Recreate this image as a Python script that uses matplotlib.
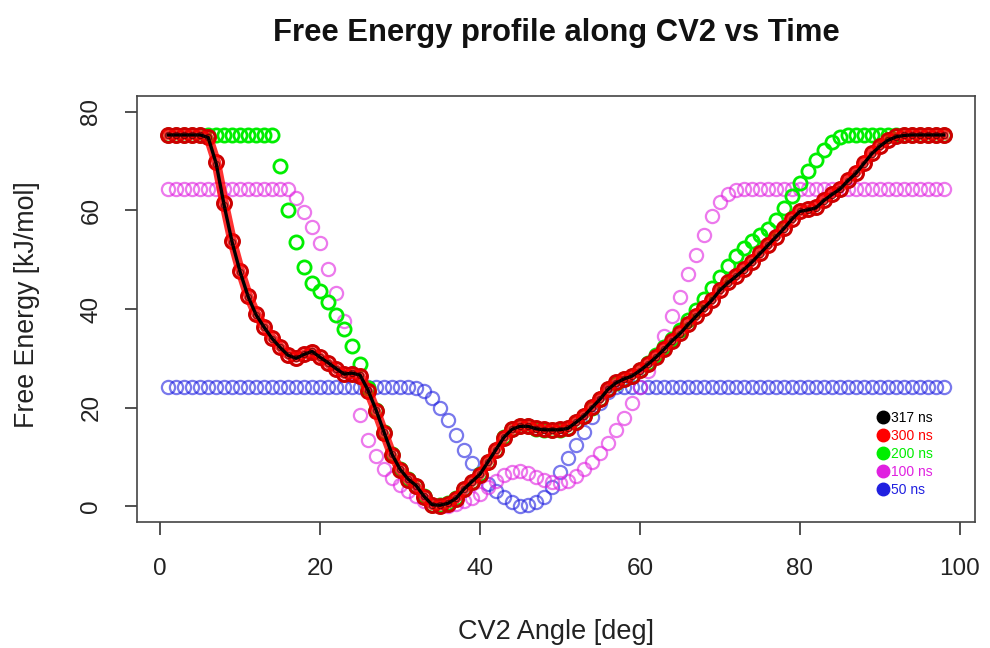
import numpy as np
import matplotlib
matplotlib.use("Agg")
import matplotlib.pyplot as plt
from matplotlib.lines import Line2D

plt.rcParams['font.family'] = ['Liberation Sans', 'DejaVu Sans']

# CV2 angle grid (deg)
angle = np.arange(1, 99)

# free energy (kJ/mol), one value per degree
fe_317 = [75.3, 75.3, 75.3, 75.3, 75.3, 74.8, 69.5, 61.0, 53.5, 47.5,
          42.5, 38.8, 36.3, 34.0, 32.2, 30.6, 30.0, 30.8, 31.4, 30.2,
          29.1, 27.9, 26.8, 27.0, 26.6, 23.5, 19.5, 15.0, 10.5, 7.5,
          5.5, 4.2, 2.0, 0.3, 0.2, 0.6, 1.6, 3.5, 5.0, 6.5,
          9.0, 11.5, 14.0, 15.6, 16.2, 16.2, 15.7, 15.5, 15.5, 15.5,
          15.8, 17.0, 18.3, 20.0, 21.7, 23.7, 25.0, 25.8, 26.4, 27.5,
          28.8, 30.2, 31.8, 33.5, 35.0, 36.8, 38.5, 40.2, 41.8, 43.8,
          45.3, 46.6, 48.0, 49.5, 51.2, 52.9, 54.6, 56.3, 58.2, 59.8,
          60.1, 60.5, 62.0, 63.2, 64.3, 66.0, 67.5, 69.5, 71.5, 73.0,
          74.2, 74.9, 75.2, 75.3, 75.3, 75.3, 75.3, 75.3]

fe_300 = [75.3, 75.3, 75.3, 75.3, 75.3, 74.9, 69.8, 61.4, 53.8, 47.8,
          42.7, 39.0, 36.4, 34.1, 32.3, 30.7, 30.1, 30.8, 31.3, 30.2,
          29.0, 27.8, 26.8, 26.9, 26.5, 23.4, 19.3, 14.8, 10.4, 7.4,
          5.4, 4.1, 1.9, 0.2, 0.1, 0.5, 1.5, 3.4, 4.9, 6.4,
          8.9, 11.4, 13.9, 15.6, 16.3, 16.3, 15.8, 15.6, 15.5, 15.6,
          15.9, 17.1, 18.4, 20.1, 21.8, 23.8, 25.1, 25.9, 26.5, 27.6,
          28.9, 30.3, 31.9, 33.6, 35.1, 36.9, 38.6, 40.3, 41.9, 43.9,
          45.4, 46.7, 48.1, 49.6, 51.3, 53.0, 54.7, 56.4, 58.3, 59.9,
          60.2, 60.6, 62.1, 63.3, 64.4, 66.1, 67.6, 69.6, 71.6, 73.1,
          74.3, 75.0, 75.3, 75.3, 75.3, 75.3, 75.3, 75.3]

fe_200 = [75.3, 75.3, 75.3, 75.3, 75.3, 75.3, 75.3, 75.3, 75.3, 75.3,
          75.3, 75.3, 75.3, 75.3, 69.0, 60.0, 53.5, 48.5, 45.3, 43.6,
          41.5, 38.8, 36.0, 32.5, 28.8, 24.0, 19.5, 15.0, 10.5, 7.5,
          5.5, 4.2, 2.0, 0.3, 0.2, 0.6, 1.6, 3.5, 5.0, 6.5,
          9.0, 11.5, 14.0, 15.6, 16.2, 16.2, 15.7, 15.5, 15.5, 15.5,
          15.8, 17.0, 18.3, 20.0, 21.7, 23.7, 25.0, 25.8, 26.4, 27.6,
          29.0, 30.6, 32.3, 34.0, 35.8, 37.8, 39.8, 42.0, 44.2, 46.5,
          48.8, 50.7, 52.3, 53.8, 55.0, 56.2, 58.0, 60.5, 63.0, 65.5,
          68.0, 70.3, 72.3, 73.8, 74.8, 75.2, 75.3, 75.3, 75.3, 75.3,
          75.3, 75.3, 75.3, 75.3, 75.3, 75.3, 75.3, 75.3]

fe_100 = [64.3, 64.3, 64.3, 64.3, 64.3, 64.3, 64.3, 64.3, 64.3, 64.3,
          64.3, 64.3, 64.3, 64.3, 64.3, 64.3, 62.5, 59.7, 56.6, 53.3,
          48.2, 43.3, 37.5, 27.0, 18.5, 13.5, 10.2, 7.6, 5.8, 4.3,
          3.0, 2.0, 1.0, 0.3, 0.0, 0.1, 0.4, 1.0, 1.7, 2.5,
          3.8, 5.2, 6.4, 7.0, 7.1, 6.8, 6.0, 5.4, 5.0, 4.8,
          5.2, 6.2, 7.5, 9.0, 10.8, 12.8, 15.5, 17.8, 21.0, 24.2,
          27.5, 30.5, 34.5, 38.5, 42.5, 47.0, 51.0, 55.0, 58.8, 61.8,
          63.3, 64.1, 64.3, 64.3, 64.3, 64.3, 64.3, 64.3, 64.3, 64.3,
          64.3, 64.3, 64.3, 64.3, 64.3, 64.3, 64.3, 64.3, 64.3, 64.3,
          64.3, 64.3, 64.3, 64.3, 64.3, 64.3, 64.3, 64.3]

fe_50 = [24.2, 24.2, 24.2, 24.2, 24.2, 24.2, 24.2, 24.2, 24.2, 24.2,
         24.2, 24.2, 24.2, 24.2, 24.2, 24.2, 24.2, 24.2, 24.2, 24.2,
         24.2, 24.2, 24.2, 24.2, 24.2, 24.2, 24.2, 24.2, 24.2, 24.2,
         24.2, 24.0, 23.4, 22.0, 20.0, 17.5, 14.5, 11.5, 8.8, 6.5,
         4.5, 3.0, 1.8, 0.8, 0.1, 0.2, 0.8, 1.8, 4.0, 7.0,
         9.8, 12.5, 15.0, 18.0, 21.0, 23.2, 24.1, 24.2, 24.2, 24.2,
         24.2, 24.2, 24.2, 24.2, 24.2, 24.2, 24.2, 24.2, 24.2, 24.2,
         24.2, 24.2, 24.2, 24.2, 24.2, 24.2, 24.2, 24.2, 24.2, 24.2,
         24.2, 24.2, 24.2, 24.2, 24.2, 24.2, 24.2, 24.2, 24.2, 24.2,
         24.2, 24.2, 24.2, 24.2, 24.2, 24.2, 24.2, 24.2]

labels = ["317 ns", "300 ns", "200 ns", "100 ns", "50 ns"]
colors = ["black", "#ff0000", "#00ee00", "#e020e0", "#2020e0"]

fig = plt.figure(figsize=(9.9, 6.48), dpi=100)
ax = fig.add_axes([137 / 990, 1 - 522 / 648, 838 / 990, 426 / 648])

# open circles, oldest profile at the bottom
ax.plot(angle, fe_50, 'o', mfc='none', mec=colors[4], mew=1.6, ms=9.5, alpha=0.6)
ax.plot(angle, fe_100, 'o', mfc='none', mec=colors[3], mew=1.6, ms=9.5, alpha=0.6)
ax.plot(angle, fe_200, 'o', mfc='none', mec=colors[2], mew=2.0, ms=9.5)
ax.plot(angle, fe_300, 'o', mfc='none', mec='#cc0000', mew=2.2, ms=10)
ax.plot(angle, fe_300, '-', color='#ff0000', lw=7, alpha=0.8)
ax.plot(angle, fe_317, '-', color='black', lw=2.4)
ax.plot(angle, fe_317, 'o', mfc='none', mec='#300000', mew=0.8, ms=4.5, alpha=0.6)

ax.set_xlim(-2.9, 101.9)
ax.set_ylim(-3.2, 83.2)
ax.set_xticks([0, 20, 40, 60, 80, 100])
ax.set_yticks([0, 20, 40, 60, 80])
ax.tick_params(axis='both', direction='out', length=9, width=1.2,
               labelsize=17.5, colors='#333333', labelcolor='#222222')
ax.tick_params(axis='x', pad=17)
ax.tick_params(axis='y', pad=16)
for lab in ax.get_yticklabels():
    lab.set_rotation(90)
    lab.set_va('center')
for sp in ax.spines.values():
    sp.set_linewidth(1.2)
    sp.set_color('#444444')

handles = [Line2D([], [], marker='o', ls='none', color=c, ms=9) for c in colors]
ax.legend(handles, labels, loc='lower right', bbox_to_anchor=(0.958, 0.043),
          frameon=False, fontsize=10, labelcolor=colors, handletextpad=0.1,
          labelspacing=0.28, handlelength=1.0, borderpad=0)

fig.text(556 / 990, 1 - 33 / 648, "Free Energy profile along CV2 vs Time",
         ha='center', va='center', fontsize=22.3, fontweight='bold', color='#111111')
fig.text(556 / 990, 1 - 632 / 648, "CV2 Angle [deg]", ha='center', va='center',
         fontsize=19.5, color='#222222')
fig.text(27 / 990, 1 - 305 / 648, "Free Energy [kJ/mol]", ha='center', va='center',
         rotation=90, fontsize=19.3, color='#222222')

fig.savefig("out.png", dpi=100)
